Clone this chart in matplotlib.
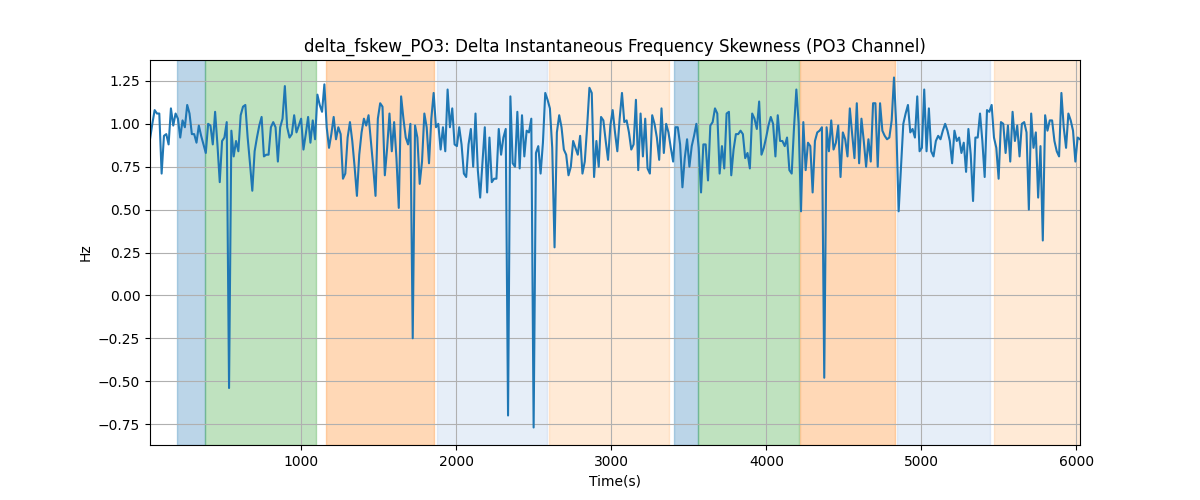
import numpy as np
import matplotlib
matplotlib.use("Agg")
import matplotlib.pyplot as plt

# Sample times (s): one sample every 15 s
t_start = 23
t_step = 15

# Delta instantaneous frequency skewness (Hz)
values = [
    0.91, 1.00, 1.08, 1.06, 1.06, 0.71, 0.93, 0.94, 0.88, 1.09,
    0.99, 1.06, 1.03, 0.92, 1.02, 0.98, 1.11, 1.06, 0.94, 0.94,
    0.89, 0.99, 0.93, 0.88, 0.83, 1.00, 0.99, 0.88, 1.07, 0.88,
    0.66, 0.90, 0.92, 1.01, -0.54, 0.96, 0.81, 0.90, 0.84, 1.05,
    1.10, 1.11, 0.92, 0.77, 0.61, 0.84, 0.92, 0.99, 1.04, 0.81,
    0.82, 0.82, 0.98, 1.01, 0.98, 0.78, 0.98, 1.03, 1.22, 0.98,
    0.92, 0.94, 1.05, 0.95, 0.99, 1.03, 0.85, 0.94, 1.04, 0.89,
    1.02, 0.91, 1.17, 1.11, 1.07, 1.23, 0.98, 0.86, 0.94, 1.04,
    0.91, 0.98, 0.94, 0.68, 0.71, 0.92, 1.01, 0.90, 0.75, 0.58,
    0.82, 0.95, 1.03, 0.99, 1.05, 0.90, 0.75, 0.58, 1.03, 1.12,
    1.10, 0.70, 0.86, 1.06, 0.84, 1.01, 0.80, 0.51, 1.16, 1.03,
    0.92, 0.88, 1.00, -0.25, 0.99, 0.92, 0.65, 0.78, 1.06, 0.98,
    0.77, 1.03, 1.18, 0.98, 1.00, 0.85, 0.98, 0.84, 1.20, 0.98,
    1.09, 0.88, 0.87, 0.98, 0.88, 0.71, 0.69, 0.88, 0.97, 0.75,
    1.06, 0.73, 0.57, 0.78, 0.98, 0.60, 0.92, 0.66, 0.68, 0.68,
    0.97, 0.82, 0.92, 0.97, -0.70, 1.16, 0.77, 0.75, 1.07, 0.74,
    1.05, 0.81, 0.96, 0.95, 1.03, -0.77, 0.83, 0.87, 0.71, 0.89,
    1.18, 1.14, 1.09, 0.86, 0.28, 0.95, 1.05, 0.98, 0.85, 0.82,
    0.70, 0.75, 0.90, 0.86, 0.82, 0.93, 0.71, 0.78, 0.98, 1.21,
    1.18, 0.69, 0.90, 0.75, 1.04, 1.02, 0.90, 0.79, 0.99, 1.08,
    0.95, 0.84, 1.03, 1.18, 1.01, 1.02, 0.95, 0.85, 0.88, 1.14,
    0.73, 1.06, 0.81, 1.03, 0.74, 0.71, 1.05, 1.00, 0.92, 0.79,
    1.09, 0.83, 1.00, 0.95, 0.86, 0.78, 0.98, 0.98, 0.88, 0.63,
    0.80, 0.91, 0.75, 0.87, 0.93, 1.00, 0.86, 0.60, 0.88, 0.88,
    0.67, 0.99, 1.01, 1.09, 1.06, 0.71, 0.87, 0.74, 1.06, 1.07,
    0.70, 0.85, 0.94, 0.94, 0.96, 0.94, 0.80, 0.83, 0.74, 1.06,
    1.03, 0.97, 1.13, 0.82, 0.86, 0.92, 0.99, 1.04, 1.00, 0.81,
    1.05, 0.90, 0.90, 0.87, 0.92, 0.73, 0.71, 0.98, 1.20, 1.00,
    0.49, 1.01, 0.73, 0.89, 0.87, 0.60, 0.90, 0.95, 0.96, 0.98,
    -0.48, 0.98, 0.84, 1.02, 0.85, 0.89, 0.99, 0.69, 0.95, 0.91,
    0.81, 1.09, 0.94, 0.80, 1.12, 0.77, 1.03, 0.90, 0.75, 0.91,
    0.78, 1.12, 1.12, 0.75, 1.12, 0.96, 0.93, 0.91, 0.92, 1.02,
    1.27, 0.98, 0.49, 0.75, 1.00, 1.06, 1.11, 0.95, 0.97, 0.92,
    1.16, 0.84, 0.86, 1.20, 0.84, 1.09, 0.84, 0.81, 0.90, 0.93,
    0.91, 0.96, 1.00, 0.96, 0.90, 0.77, 0.96, 0.90, 0.92, 0.83,
    0.89, 0.72, 0.97, 0.82, 0.55, 0.92, 0.92, 1.06, 0.90, 0.69,
    1.08, 1.07, 1.11, 0.92, 0.86, 0.68, 1.01, 1.00, 0.83, 0.99,
    0.78, 1.07, 0.90, 0.99, 0.81, 1.00, 1.01, 0.95, 0.50, 1.06,
    0.86, 0.95, 0.57, 0.87, 0.32, 1.05, 0.96, 1.02, 1.02, 0.90,
    0.84, 0.81, 1.18, 0.98, 0.86, 1.06, 1.02, 0.96, 0.78, 0.92,
    0.91,
]

# Shaded segments: (start, end, colour)
span_starts = [198, 379, 1161, 1873, 2598, 3406, 3561, 4214, 4842, 5470]
span_ends = [379, 1091, 1853, 2585, 3374, 3561, 4208, 4829, 5444, 6040]
span_colors = ["#1f77b4", "#2ca02c", "#ff7f0e", "#aec7e8", "#ffbb78",
               "#1f77b4", "#2ca02c", "#ff7f0e", "#aec7e8", "#ffbb78"]

t = t_start + t_step * np.arange(len(values))

fig, ax = plt.subplots(figsize=(12, 5), dpi=100)

for s, e, c in zip(span_starts, span_ends, span_colors):
    ax.axvspan(s, e, color=c, alpha=0.3)

ax.plot(t, values, color="#1f77b4")

ax.set_xlim(t[0], t[-1])
ax.set_title("delta_fskew_PO3: Delta Instantaneous Frequency Skewness (PO3 Channel)")
ax.set_xlabel("Time(s)")
ax.set_ylabel("Hz")
ax.grid(True)

plt.savefig("out.png")
